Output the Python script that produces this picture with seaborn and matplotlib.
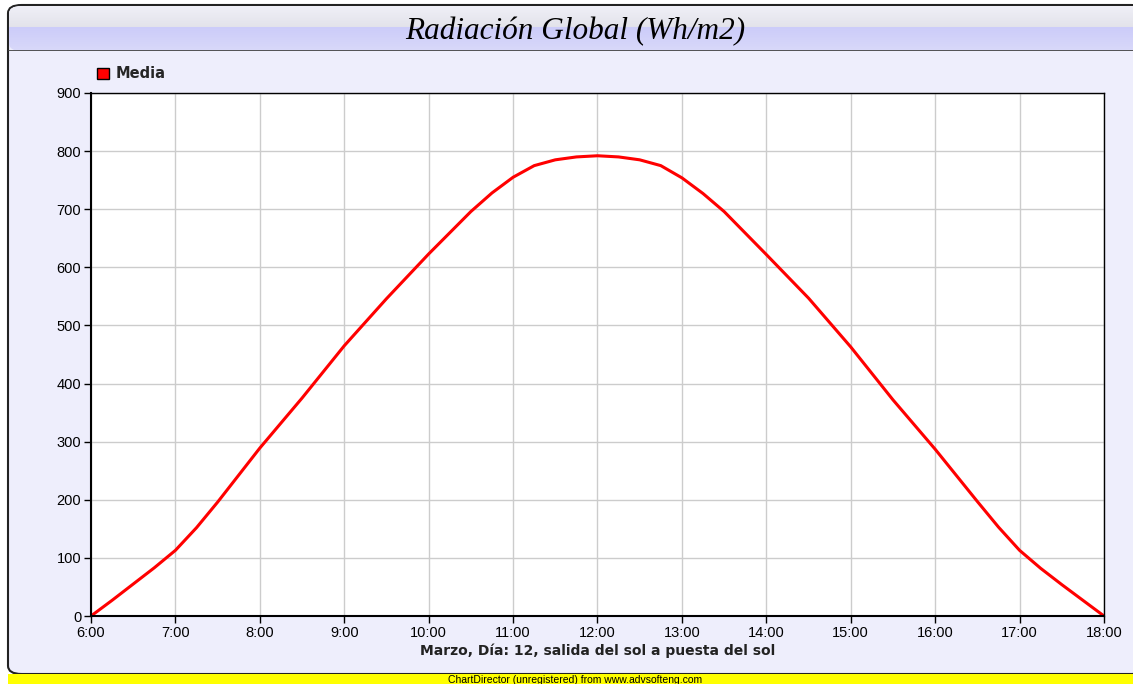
import numpy as np
import pandas as pd
import seaborn as sns
import matplotlib.pyplot as plt
from matplotlib.patches import FancyBboxPatch, Rectangle, Patch

# datos (media, Wh/m2)
hours = [6.0, 6.25, 6.5, 6.75, 7.0, 7.25, 7.5, 8.0, 8.5, 9.0, 9.5, 10.0, 10.5, 10.75,
         11.0, 11.25, 11.5, 11.75, 12.0, 12.25, 12.5, 12.75, 13.0, 13.25, 13.5,
         14.0, 14.5, 15.0, 15.5, 16.0, 16.5, 16.75, 17.0, 17.25, 17.5, 17.75, 18.0]
media = [0, 27, 55, 83, 113, 152, 196, 289, 375, 465, 546, 623, 696, 728,
         755, 775, 785, 790, 792, 790, 785, 775, 754, 727, 696,
         622, 547, 463, 372, 287, 197, 153, 113, 82, 54, 27, 0]
tick_hours = [6, 7, 8, 9, 10, 11, 12, 13, 14, 15, 16, 17, 18]
tick_labels = ["6:00", "7:00", "8:00", "9:00", "10:00", "11:00", "12:00",
               "13:00", "14:00", "15:00", "16:00", "17:00", "18:00"]
y_ticks = [0, 100, 200, 300, 400, 500, 600, 700, 800, 900]

df = pd.DataFrame({"hora": hours, "Media": media})

sns.set_theme(style="whitegrid")
plt.rcParams["font.family"] = ["Liberation Sans", "DejaVu Sans"]

W, H = 1133, 684
fig = plt.figure(figsize=(W / 100, H / 100), dpi=100)
fig.patch.set_facecolor("white")

def fx(px):
    return px / W

def fy(py):
    return 1 - py / H

# panel de fondo con borde redondeado
bg = FancyBboxPatch((fx(8), fy(674)), fx(1145) - fx(8), fy(5) - fy(674),
                    boxstyle="round,pad=0,rounding_size=0.012",
                    transform=fig.transFigure, facecolor="#EEEEFC",
                    edgecolor="#222222", linewidth=1.5, zorder=-5)
fig.patches.append(bg)

# barra de titulo con degradado
tax = fig.add_axes([fx(8), fy(51), fx(1133) - fx(8), fy(5) - fy(51)])
tax.set_axis_off()
tax.set_zorder(1)
top = np.linspace(0.94, 0.89, 22)
bot = np.linspace(0.80, 0.85, 24)
rgb = np.zeros((len(top) + len(bot), 1, 3))
rgb[:22, 0, 0] = top
rgb[:22, 0, 1] = top
rgb[:22, 0, 2] = top + 0.03
rgb[22:, 0, 0] = bot
rgb[22:, 0, 1] = bot
rgb[22:, 0, 2] = 0.98
im = tax.imshow(rgb, aspect="auto", extent=[0, 1, 0, 1], interpolation="bilinear")
clip = FancyBboxPatch((fx(9), fy(51)), fx(1145) - fx(9), fy(6) - fy(51),
                      boxstyle="round,pad=0,rounding_size=0.011",
                      transform=fig.transFigure, facecolor="none", edgecolor="none")
im.set_clip_path(clip)
tax.axhline(0.0, color="#444444", lw=2)
fig.text(fx(575), fy(32), "Radiación Global (Wh/m2)", ha="center", va="center",
         fontsize=22.5, fontstyle="italic", family="Liberation Serif", color="black",
         zorder=5)

# barra amarilla inferior
fig.patches.append(Rectangle((fx(8), 0), fx(1133) - fx(8), fy(674), transform=fig.transFigure,
                             facecolor="#FFFF00", edgecolor="none", zorder=2))
fig.text(fx(575), fy(680), "ChartDirector (unregistered) from www.advsofteng.com",
         ha="center", va="center", fontsize=7.5, color="black", zorder=5)

# area del grafico
ax = fig.add_axes([fx(91), fy(616), fx(1104) - fx(91), fy(93) - fy(616)])
ax.set_zorder(1)
ax.set_facecolor("white")
sns.lineplot(data=df, x="hora", y="Media", color="#FF0000", lw=2.2, ax=ax, legend=False)

ax.set_xlim(6, 18)
ax.set_ylim(0, 900)
ax.set_xticks(tick_hours)
ax.set_xticklabels(tick_labels)
ax.set_yticks(y_ticks)
ax.grid(True, color="#CCCCCC", lw=1)
for s in ax.spines.values():
    s.set_color("black")
    s.set_linewidth(1.0)
ax.spines["left"].set_linewidth(1.5)
ax.spines["bottom"].set_linewidth(1.5)
ax.tick_params(axis="both", direction="out", length=5, width=1, color="black",
               labelsize=10.5, labelcolor="black", pad=2, left=True, bottom=True)
ax.set_ylabel("")
ax.set_xlabel("Marzo, Día: 12, salida del sol a puesta del sol", fontsize=10,
              fontweight="bold", family="DejaVu Sans", color="#222222", labelpad=3)

ax.legend(handles=[Patch(facecolor="#FF0000", edgecolor="black", label="Media")],
          loc="center left", bbox_to_anchor=(fx(84), fy(74)), bbox_transform=fig.transFigure,
          frameon=False, handlelength=0.8, handleheight=0.8, handletextpad=0.5,
          prop={"weight": "bold", "size": 10.5, "family": "DejaVu Sans"})

fig.savefig("out.png", dpi=100)
